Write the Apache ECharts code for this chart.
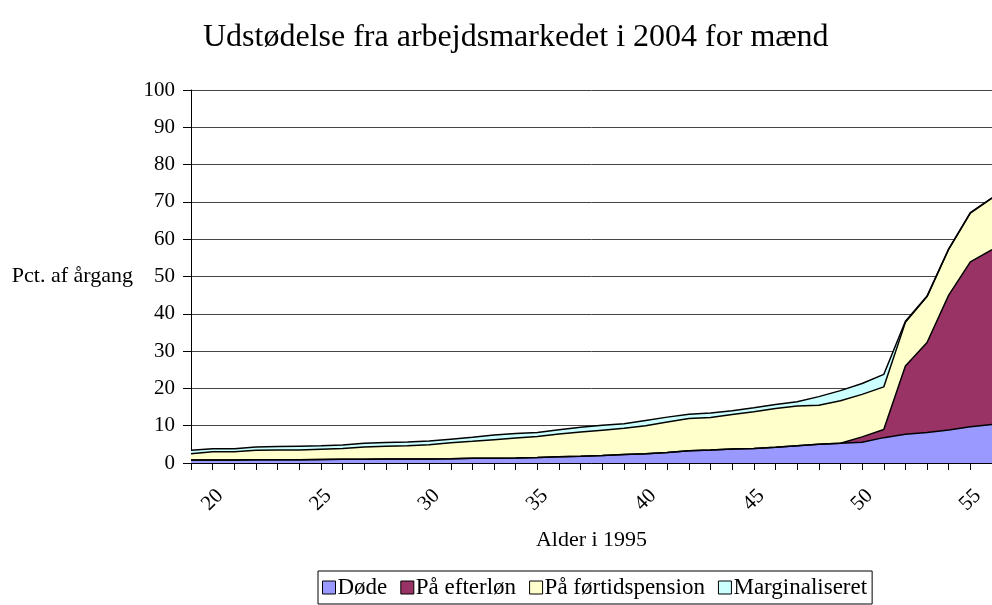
<!DOCTYPE html>
<html>
<head>
<meta charset="utf-8">
<script src="https://cdn.jsdelivr.net/npm/echarts@6/dist/echarts.min.js"></script>
<style>
html,body{margin:0;padding:0;background:#fff;}
#c{width:992px;height:605px;}
</style>
</head>
<body>
<div id="c"></div>
<script>
const titleText = 'Udstødelse fra arbejdsmarkedet i 2004 for mænd';
const xName = 'Alder i 1995';
const yName = 'Pct. af årgang';
const ages = ['19','20','21','22','23','24','25','26','27','28','29','30','31','32','33','34','35','36','37','38','39','40','41','42','43','44','45','46','47','48','49','50','51','52','53','54','55','56'];
const seriesNames = ['Døde', 'På efterløn', 'På førtidspension', 'Marginaliseret'];
const doede = [0.8,0.8,0.8,0.85,0.9,0.9,0.95,1.0,1.0,1.05,1.05,1.1,1.15,1.25,1.25,1.35,1.5,1.7,1.8,2.0,2.3,2.5,2.8,3.3,3.5,3.75,3.9,4.2,4.6,5.0,5.3,5.55,6.8,7.7,8.2,8.85,9.7,10.3];
const efterloen = [0,0,0,0,0,0,0,0,0,0,0,0,0,0,0,0,0,0,0,0,0,0,0,0,0,0,0,0,0,0,0,1.45,2.2,18.3,24.1,36.15,44.2,46.9];
const foertid = [1.7,2.2,2.2,2.55,2.6,2.6,2.75,2.9,3.3,3.45,3.55,3.8,4.25,4.55,5.0,5.35,5.6,6.1,6.5,6.8,7.0,7.5,8.2,8.6,8.7,9.25,9.85,10.4,10.7,10.5,11.4,11.4,11.4,11.7,12.3,12.3,13.1,13.8];
const marginal = [0.9,0.8,0.8,0.9,0.9,1.0,0.9,0.9,1.0,1.0,1.0,1.0,1.0,1.1,1.25,1.2,1.1,1.1,1.3,1.3,1.2,1.4,1.3,1.2,1.2,1.0,1.05,1.1,1.1,2.3,2.7,2.9,3.35,0.3,0.15,0.1,0.1,0.1];
const yTicks = {min: 0, max: 100, interval: 10};
const colors = ['#9999FF', '#993366', '#FFFFCC', '#CCFFFF'];
const values = [doede, efterloen, foertid, marginal];

const font = 'Liberation Serif';
const chart = echarts.init(document.getElementById('c'), null, {renderer: 'canvas'});
chart.setOption({
  backgroundColor: '#fff',
  animation: false,
  title: {
    text: titleText,
    left: 198, top: 17,
    textStyle: {fontFamily: font, fontSize: 32, fontWeight: 'normal', color: '#000'}
  },
  legend: {
    data: seriesNames,
    left: 318, top: 571,
    orient: 'horizontal',
    icon: 'rect',
    itemWidth: 13, itemHeight: 13,
    itemGap: 13,
    padding: [5, 5, 5, 4],
    borderColor: '#000', borderWidth: 1,
    textStyle: {fontFamily: font, fontSize: 23, color: '#000', padding: [0, 0, 0, -3]},
    itemStyle: {borderColor: '#000', borderWidth: 1}
  },
  grid: {left: 191, top: 90, bottom: 142, right: -3},
  xAxis: {
    type: 'category',
    data: ages,
    boundaryGap: false,
    name: xName,
    nameLocation: 'middle',
    nameGap: 66,
    nameTextStyle: {fontFamily: font, fontSize: 22, color: '#000'},
    axisLine: {lineStyle: {color: '#000', width: 1}},
    axisTick: {show: true, interval: 0, length: 7, lineStyle: {color: '#000'}},
    axisLabel: {
      interval: function (i, v) { return Number(v) % 5 === 0; },
      rotate: 45,
      align: 'center',
      verticalAlign: 'middle',
      margin: 37,
      fontFamily: font, fontSize: 21, color: '#000'
    },
    splitLine: {show: false}
  },
  yAxis: {
    type: 'value',
    min: yTicks.min, max: yTicks.max, interval: yTicks.interval,
    name: yName,
    nameLocation: 'middle',
    nameRotate: 0,
    nameGap: 58,
    nameTextStyle: {fontFamily: font, fontSize: 22, color: '#000', align: 'right', verticalAlign: 'middle'},
    axisLine: {show: true, lineStyle: {color: '#000', width: 1}},
    axisTick: {show: true, length: 8, lineStyle: {color: '#000'}},
    axisLabel: {margin: 16, fontFamily: font, fontSize: 21, color: '#000'},
    splitLine: {show: true, lineStyle: {color: '#444', width: 1}}
  },
  series: seriesNames.map((n, i) => ({
    name: n,
    type: 'line',
    stack: 'total',
    data: values[i],
    symbol: 'none',
    showSymbol: false,
    lineStyle: {color: '#000', width: 1.5},
    itemStyle: {color: colors[i], borderColor: '#000', borderWidth: 1},
    areaStyle: {color: colors[i], opacity: 1},
    emphasis: {disabled: true}
  }))
});
</script>
</body>
</html>
